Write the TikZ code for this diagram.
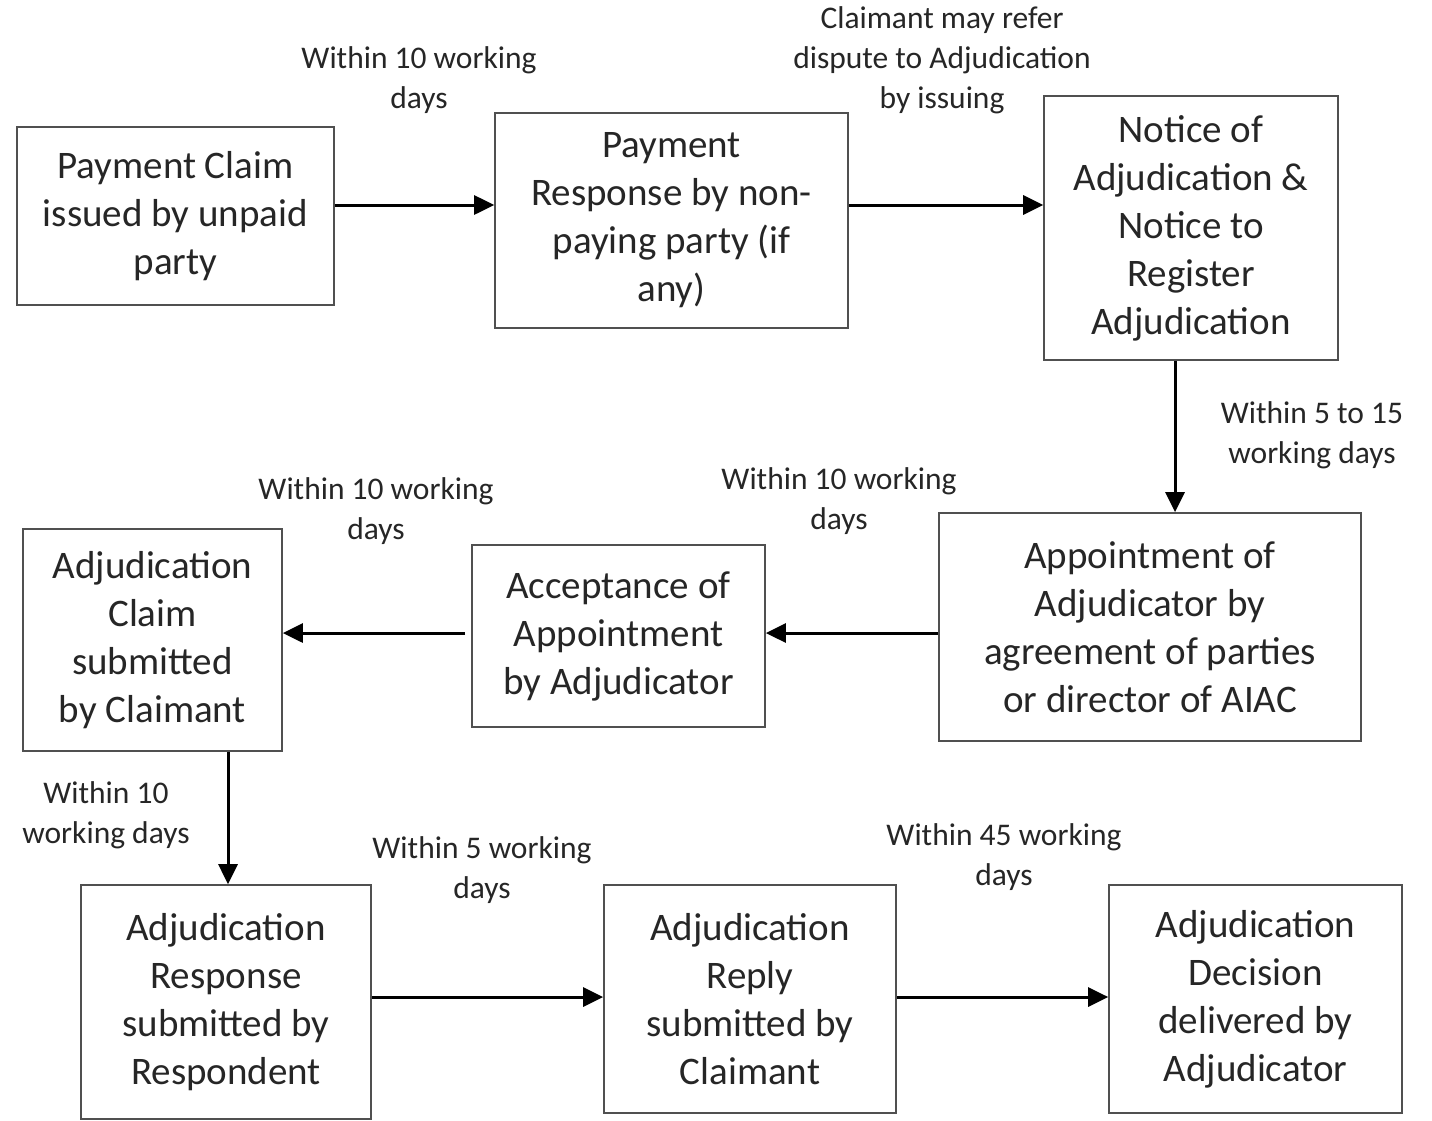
\documentclass[tikz,border=0pt]{standalone}
\usepackage{fontspec}
\setmainfont{Carlito}
\usetikzlibrary{arrows.meta}
\definecolor{txt}{HTML}{262626}
\definecolor{bord}{HTML}{505050}
\tikzset{
  box/.style={draw=bord, line width=1.7pt, align=center, inner sep=0pt, text=txt,
    font=\fontsize{39}{48}\selectfont},
  lab/.style={align=center, inner sep=0pt, text=txt, font=\fontsize{31.5}{40}\selectfont},
  arr/.style={line width=3pt, black, -{Triangle[length=20pt,width=19pt]}},
}
\begin{document}
\begin{tikzpicture}[x=1pt,y=-1pt]
\useasboundingbox[fill=white] (0,0) rectangle (1432,1121);
% boxes
\node[box, minimum width=317pt, minimum height=178pt] (b1) at (175.5,216) {Payment Claim\\issued by unpaid\\party};
\node[box, minimum width=353pt, minimum height=215pt] (b2) at (671.5,220.5) {Payment\\Response by non-\\paying party (if\\any)};
\node[box, minimum width=294pt, minimum height=264pt] (b3) at (1191,228) {Notice of\\Adjudication \&\\Notice to\\Register\\Adjudication};
\node[box, minimum width=422pt, minimum height=228pt] (b4) at (1150,627) {Appointment of\\Adjudicator by\\agreement of parties\\or director of AIAC};
\node[box, minimum width=293pt, minimum height=182pt] (b5) at (618.5,636) {Acceptance of\\Appointment\\by Adjudicator};
\node[box, minimum width=259pt, minimum height=222pt] (b6) at (152.5,640) {Adjudication\\Claim\\submitted\\by Claimant};
\node[box, minimum width=290pt, minimum height=234pt] (b7) at (226,1002) {Adjudication\\Response\\submitted by\\Respondent};
\node[box, minimum width=292pt, minimum height=228pt] (b8) at (750,999) {Adjudication\\Reply\\submitted by\\Claimant};
\node[box, minimum width=293pt, minimum height=228pt] (b9) at (1255.5,999) {Adjudication\\Decision\\delivered by\\Adjudicator};
% connector heights
\coordinate (h1) at (0,205);
\coordinate (h2) at (0,633);
\coordinate (h3) at (0,997);
\coordinate (v1) at (1175,0);
\coordinate (v2) at (228,0);
\coordinate (s5) at (465,633);
% arrows
\draw[arr] (b1.east |- h1) -- (b2.west |- h1);
\draw[arr] (b2.east |- h1) -- (b3.west |- h1);
\draw[arr] (b3.south -| v1) -- (b4.north -| v1);
\draw[arr] (b4.west |- h2) -- (b5.east |- h2);
\draw[arr] (s5) -- (b6.east |- h2);
\draw[arr] (b6.south -| v2) -- (b7.north -| v2);
\draw[arr] (b7.east |- h3) -- (b8.west |- h3);
\draw[arr] (b8.east |- h3) -- (b9.west |- h3);
% labels
\node[lab] (l1) at (419,80) {Within 10 working\\days};
\node[lab] (l2) at (942,60) {Claimant may refer\\dispute to Adjudication\\by issuing};
\node[lab] (l3) at (1312,435) {Within 5 to 15\\working days};
\node[lab] (l4) at (839,501) {Within 10 working\\days};
\node[lab] (l5) at (376,511) {Within 10 working\\days};
\node[lab] (l6) at (106,815) {Within 10\\working days};
\node[lab] (l7) at (482,870) {Within 5 working\\days};
\node[lab] (l8) at (1004,857) {Within 45 working\\days};
\end{tikzpicture}
\end{document}
